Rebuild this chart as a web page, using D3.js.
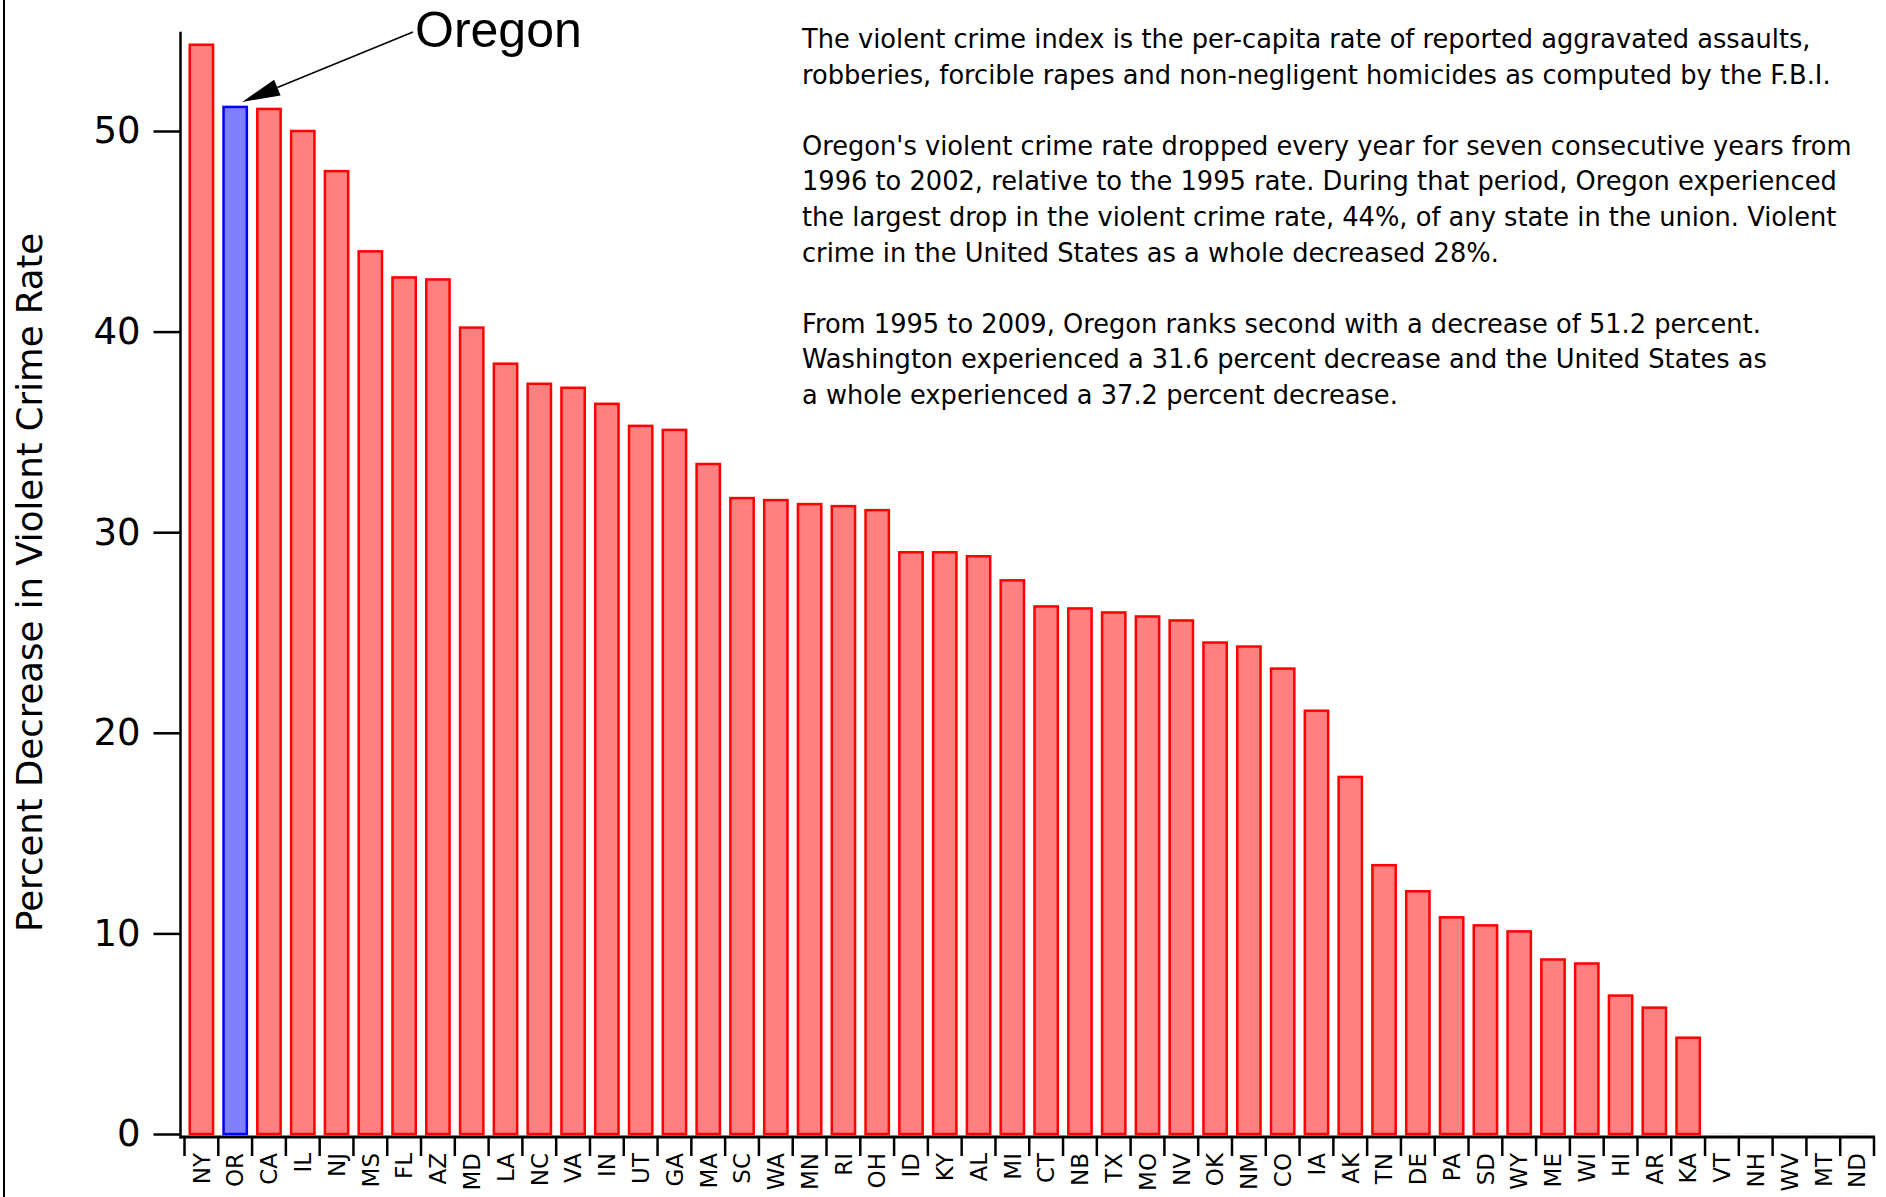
<!DOCTYPE html>
<meta charset="utf-8">
<style>
body { margin: 0; background: #fff; }
svg { display: block; }
.tick text { fill: #000; }
.ylab { font: 37px "DejaVu Sans", sans-serif; }
.xlab { font: 23px "DejaVu Sans", sans-serif; }
.ytitle { font: 35.5px "DejaVu Sans", sans-serif; }
.note { font: 25.7px "DejaVu Sans", sans-serif; }
.callout { font: 50px "Liberation Sans", Arial, sans-serif; }
</style>
<svg width="1886" height="1197"></svg>
<script src="https://d3js.org/d3.v7.min.js"></script>
<script>
// states ranked by percent decrease in violent crime rate, 1995-2009
var states = ["NY","OR","CA","IL","NJ","MS","FL","AZ","MD","LA","NC","VA","IN","UT","GA",
              "MA","SC","WA","MN","RI","OH","ID","KY","AL","MI","CT","NB","TX","MO","NV",
              "OK","NM","CO","IA","AK","TN","DE","PA","SD","WY","ME","WI","HI","AR","KA",
              "VT","NH","WV","MT","ND"];
var decrease = [54.3,51.2,51.1,50.0,48.0,44.0,42.7,42.6,40.2,38.4,37.4,37.2,36.4,35.3,35.1,
                33.4,31.7,31.6,31.4,31.3,31.1,29.0,29.0,28.8,27.6,26.3,26.2,26.0,25.8,25.6,
                24.5,24.3,23.2,21.1,17.8,13.4,12.1,10.8,10.4,10.1,8.7,8.5,6.9,6.3,4.8,
                0,0,0,0,0];
var yTicks = [0, 10, 20, 30, 40, 50];
var highlight = "OR";
var calloutLabel = "Oregon";
var yTitle = "Percent Decrease in Violent Crime Rate";
var notes = [
  "The violent crime index is the per-capita rate of reported aggravated assaults,",
  "robberies, forcible rapes and non-negligent homicides as computed by the F.B.I.",
  "",
  "Oregon's violent crime rate dropped every year for seven consecutive years from",
  "1996 to 2002, relative to the 1995 rate. During that period, Oregon experienced",
  "the largest drop in the violent crime rate, 44%, of any state in the union. Violent",
  "crime in the United States as a whole decreased 28%.",
  "",
  "From 1995 to 2009, Oregon ranks second with a decrease of 51.2 percent.",
  "Washington experienced a 31.6 percent decrease and the United States as",
  "a whole experienced a 37.2 percent decrease."
];

var data = states.map(function(s, i) { return {state: s, value: decrease[i]}; });

var svg = d3.select("svg");
var left = 180.5, bandLeft = 184.5, right = 1874, base = 1134;

var x = d3.scaleBand().domain(states).range([bandLeft, right])
    .paddingInner(0.31).paddingOuter(0.155);
var y = d3.scaleLinear().domain([0, 55]).range([base, base - 55 * 20.06]);

// frame edge on the left
svg.append("line").attr("x1", 4).attr("x2", 4).attr("y1", 0).attr("y2", 1197)
    .attr("stroke", "#000").attr("stroke-width", 2);

// bars
svg.append("g").selectAll("rect").data(data).enter().append("rect")
    .attr("x", function(d) { return x(d.state); })
    .attr("width", x.bandwidth())
    .attr("y", function(d) { return d.value > 0 ? y(d.value) : y(0) - 1; })
    .attr("height", function(d) { return d.value > 0 ? y(0) - y(d.value) : 1; })
    .attr("fill", function(d) {
      if (d.value <= 0) return "#fbe3e3";
      return d.state === highlight ? "#8080ff" : "#ff8080"; })
    .attr("stroke", function(d) {
      if (d.value <= 0) return "none";
      return d.state === highlight ? "#0000ff" : "#ff0000"; })
    .attr("stroke-width", 2.5);

// y axis
var yAxis = svg.append("g").attr("transform", "translate(" + left + ",0)")
    .call(d3.axisLeft(y).tickValues(yTicks).tickSize(27).tickPadding(13).tickSizeOuter(0));
yAxis.select(".domain").remove();
yAxis.selectAll(".tick line").attr("stroke-width", 2.5);
yAxis.selectAll(".tick text").attr("class", "ylab").attr("font-family", null).attr("font-size", null);
svg.append("line").attr("x1", left).attr("x2", left)
    .attr("y1", y(55) + 1).attr("y2", base + 4.5)
    .attr("stroke", "#000").attr("stroke-width", 2.5);

// x axis: labels at band centres, ticks at band boundaries
var axisY = base + 3;
var xAxis = svg.append("g").attr("transform", "translate(0," + axisY + ")")
    .call(d3.axisBottom(x).tickSize(0).tickSizeOuter(0));
xAxis.select(".domain").remove();
xAxis.selectAll(".tick text")
    .attr("class", "xlab").attr("font-family", null).attr("font-size", null)
    .attr("transform", "rotate(-90)")
    .attr("x", -16).attr("y", 0).attr("dy", "0.36em")
    .style("text-anchor", "end");

var bounds = states.map(function(s) { return x(s) - x.step() * x.paddingInner() / 2; });
bounds.push(right);
svg.append("g").selectAll("line").data(bounds).enter().append("line")
    .attr("x1", function(d) { return d; }).attr("x2", function(d) { return d; })
    .attr("y1", axisY).attr("y2", axisY + 19)
    .attr("stroke", "#000").attr("stroke-width", 2.5);
svg.append("line").attr("x1", left - 1).attr("x2", right + 1)
    .attr("y1", axisY).attr("y2", axisY)
    .attr("stroke", "#000").attr("stroke-width", 3);

// y title
svg.append("text").attr("class", "ytitle")
    .attr("transform", "translate(42," + ((y(55) + base) / 2) + ") rotate(-90)")
    .attr("text-anchor", "middle")
    .text(yTitle);

// callout with arrow
var hl = data.filter(function(d) { return d.state === highlight; })[0];
var tip = [x(hl.state) + x.bandwidth() * 0.8, y(hl.value) - 5];
var tail = [413, 32];
svg.append("text").attr("class", "callout")
    .attr("x", 415).attr("y", 47).text(calloutLabel);
var ang = Math.atan2(tail[1] - tip[1], tail[0] - tip[0]);
var hLen = 38, hW = 8.5;
var bx = tip[0] + hLen * Math.cos(ang), by = tip[1] + hLen * Math.sin(ang);
svg.append("line")
    .attr("x1", tail[0]).attr("y1", tail[1]).attr("x2", bx).attr("y2", by)
    .attr("stroke", "#000").attr("stroke-width", 1.5);
svg.append("path")
    .attr("d", "M" + tip[0] + "," + tip[1] +
               "L" + (bx - hW * Math.sin(ang)) + "," + (by + hW * Math.cos(ang)) +
               "L" + (bx + hW * Math.sin(ang)) + "," + (by - hW * Math.cos(ang)) + "Z")
    .attr("fill", "#000");

// explanatory notes
svg.append("g").selectAll("text").data(notes).enter().append("text")
    .attr("class", "note")
    .attr("x", 802)
    .attr("y", function(d, i) { return 48 + i * 35.6; })
    .text(function(d) { return d; });
</script>
